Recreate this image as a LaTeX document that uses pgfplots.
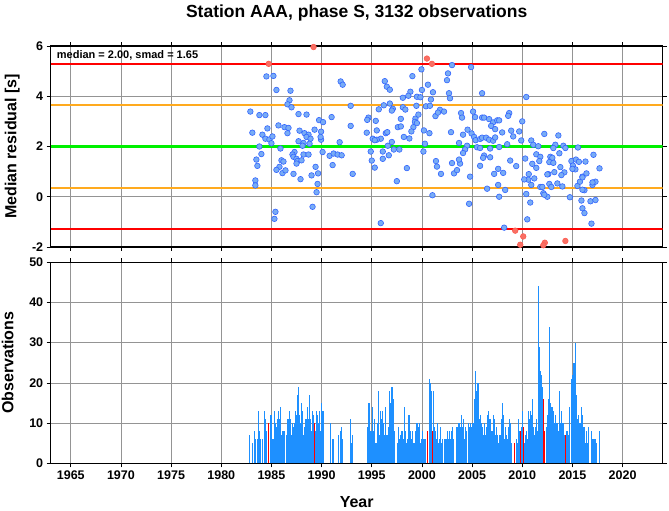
\documentclass[border=0pt]{standalone}
\usepackage{fontspec}
\setmainfont{Liberation Sans}
\usepackage{pgfplots}
\usepackage{pgfplotstable}
\pgfplotsset{compat=1.18}

\definecolor{obsblue}{RGB}{30,144,255}
\definecolor{ptfill}{RGB}{120,172,245}
\definecolor{ptedge}{RGB}{50,100,255}
\definecolor{outfill}{RGB}{248,112,100}
\definecolor{outedge}{RGB}{255,90,80}
\definecolor{limred}{RGB}{255,0,0}
\definecolor{limorange}{RGB}{255,170,30}
\definecolor{limgreen}{RGB}{0,240,0}

% monthly median residuals (blue = inside limits)
\pgfplotstableread{
year res
1982.9 3.39
1983.8 3.25
1984.4 3.25
1984.5 4.79
1985.2 4.81
1985.5 4.25
1986.9 4.22
1986.8 3.84
1986.6 3.68
1987.0 3.56
1987.7 3.29
1988.5 3.27
1989.75 3.05
1990.15 2.97
1991.0 3.17
1992.9 3.62
1991.9 4.59
1992.1 4.46
1992.9 2.82
1983.1 2.55
1984.1 2.47
1984.6 2.72
1984.4 2.31
1984.8 2.28
1985.1 2.40
1985.0 2.13
1983.8 2.00
1984.0 1.70
1983.5 1.48
1983.6 1.23
1983.4 0.65
1983.4 0.45
1985.7 2.84
1986.3 2.77
1986.7 2.74
1986.6 2.53
1985.9 1.92
1987.8 2.63
1988.3 2.53
1988.7 2.47
1988.5 2.38
1988.9 2.31
1989.3 2.67
1989.95 2.59
1989.95 2.27
1989.9 2.38
1987.7 2.21
1988.2 2.14
1988.8 2.11
1988.1 2.03
1990.1 1.78
1987.3 1.78
1987.1 1.68
1987.2 1.59
1987.5 1.51
1987.6 1.42
1987.5 1.32
1988.0 1.45
1988.2 1.68
1988.7 1.68
1986.0 1.45
1986.2 1.40
1985.8 1.19
1985.5 1.07
1986.1 0.94
1986.4 1.05
1987.2 0.91
1987.9 0.70
1989.0 0.85
1989.65 0.93
1989.4 1.19
1990.8 1.63
1991.2 1.72
1991.6 1.68
1992.0 1.65
1991.1 1.26
1991.8 2.17
1993.1 0.91
1989.6 0.51
1989.5 0.18
1989.1 -0.40
1985.4 -0.60
1985.3 -0.88
2003.0 5.24
2004.9 5.16
1999.95 5.07
2002.6 4.91
2002.5 4.64
1999.05 4.80
1996.3 4.60
1996.5 4.38
1996.8 4.26
2000.6 4.46
2000.0 4.25
2001.1 4.16
1998.85 4.18
1998.65 4.02
1998.1 3.94
1999.5 3.98
1999.85 3.96
2000.9 3.87
2000.4 3.60
2000.8 3.62
2002.7 4.12
2002.8 3.92
2006.0 4.12
1996.2 3.64
1996.8 3.71
1995.7 3.48
1997.1 3.50
1997.0 3.43
1998.1 3.56
1998.35 3.47
1999.45 3.62
2001.8 3.46
2002.2 3.39
2001.35 3.21
2001.6 3.35
2003.9 3.33
2004.0 3.15
2005.1 3.39
2005.3 3.17
2006.0 3.15
2006.2 3.15
2006.7 3.09
2007.1 2.96
2007.5 3.04
2006.9 2.82
2007.3 2.69
2007.7 3.04
1994.67 3.15
1994.55 3.06
1995.4 3.02
1995.5 2.64
1994.5 2.55
1997.9 3.10
1997.6 2.77
1997.9 2.80
1999.35 3.11
1999.3 2.98
1999.5 2.93
1999.65 3.27
1999.15 2.77
1998.95 2.60
1998.2 2.38
1998.75 2.32
1996.4 2.53
1996.55 2.57
1995.9 2.31
1995.5 2.27
1995.1 2.31
1995.3 2.25
1997.0 2.18
1996.6 2.03
1997.2 1.88
1997.75 1.88
1996.7 1.65
1996.1 1.80
1996.1 1.51
1994.9 1.80
1995.0 1.44
1995.3 1.16
1997.5 0.62
1998.5 1.14
2000.2 2.64
2000.75 2.53
2000.3 2.11
2000.15 1.80
2002.9 2.57
2004.1 2.47
2004.55 2.67
2004.95 2.52
2005.2 2.38
2005.35 2.25
2005.8 2.30
2006.0 2.35
2006.4 2.35
2006.7 2.27
2007.1 2.23
2007.3 2.36
2003.7 2.14
2004.5 2.03
2004.3 1.88
2004.1 1.74
2005.5 1.97
2005.8 1.94
2006.8 1.92
2007.7 1.98
2006.2 1.64
2006.1 1.55
2006.8 1.57
2001.4 1.42
2001.5 1.20
2001.9 0.91
2003.0 1.34
2003.8 1.32
2003.7 1.48
2003.2 0.93
2003.5 1.06
2005.8 1.23
2007.2 0.91
2007.6 1.11
2004.8 0.80
2006.5 0.32
2007.6 0.47
2001.05 0.06
2004.7 -0.28
1995.9 -1.05
2010.4 3.97
2008.7 3.33
2008.6 3.22
2010.0 3.00
2008.0 2.56
2008.9 2.63
2009.7 2.60
2009.1 2.40
2009.9 2.24
2008.5 2.09
2012.2 2.50
2013.6 2.44
2010.9 2.24
2011.1 2.07
2011.6 2.01
2013.3 2.07
2013.1 1.94
2013.7 1.73
2014.1 2.03
2014.3 1.94
2015.55 1.96
2017.1 1.67
2011.4 1.69
2011.8 1.59
2011.7 1.42
2011.4 1.15
2011.0 1.31
2010.3 1.52
2012.8 1.59
2013.0 1.55
2012.7 1.38
2013.1 1.35
2012.6 0.90
2013.8 1.18
2014.2 0.97
2013.9 0.86
2013.2 0.98
2014.9 1.42
2015.35 1.48
2015.65 1.39
2015.05 1.24
2015.3 1.09
2015.0 1.11
2016.3 1.40
2016.0 0.80
2016.4 0.93
2017.7 1.13
2008.8 1.44
2009.4 1.22
2008.1 0.95
2010.65 0.90
2010.6 0.68
2010.2 0.69
2011.2 0.73
2010.9 0.47
2011.8 0.39
2012.0 0.39
2012.5 0.00
2012.7 0.51
2012.9 0.39
2013.5 0.53
2014.0 0.41
2012.1 0.14
2012.2 0.08
2012.5 0.89
2014.75 -0.02
2015.5 0.43
2015.75 0.60
2016.0 0.77
2016.2 0.26
2016.0 0.28
2017.0 0.47
2017.3 0.60
2017.0 0.57
2015.9 -0.15
2016.8 -0.18
2017.3 -0.13
2016.0 -0.46
2016.2 -0.65
2016.9 -1.07
2007.7 0.00
2008.3 0.27
2010.4 0.11
2010.8 -0.23
2010.5 -0.90
2008.2 -1.23
}\goodres

% outliers beyond median +- 2 smad
\pgfplotstableread{
year res
1984.73 5.29
1989.2 5.96
2000.5 5.50
2001.0 5.29
2009.3 -1.35
2010.1 -1.58
2009.8 -1.91
2012.25 -1.83
2012.1 -1.93
2014.3 -1.76
}\badres

% observations per month
\pgfplotstableread{
year n
1982.81 7
1983.07 5
1983.34 8
1983.44 6
1983.60 6
1983.74 13
1983.84 8
1983.94 6
1984.07 6
1984.34 13
1984.43 11
1984.53 8
1984.87 12
1984.97 12
1985.10 6
1985.20 6
1985.33 13
1985.43 10
1985.53 9
1985.63 11
1985.73 13
1985.83 11
1985.93 14
1986.03 7
1986.13 8
1986.23 8
1986.33 8
1986.46 7
1986.56 11
1986.66 11
1986.76 13
1986.86 11
1986.96 7
1987.06 10
1987.16 9
1987.26 10
1987.36 13
1987.46 12
1987.56 17
1987.66 19
1987.76 12
1987.86 10
1987.96 15
1988.06 13
1988.16 7
1988.26 9
1988.36 11
1988.46 11
1988.55 14
1988.65 11
1988.75 17
1988.85 11
1988.95 8
1989.05 13
1989.15 12
1989.35 8
1989.45 13
1989.55 12
1989.65 10
1989.75 13
1989.85 8
1989.95 15
1990.05 13
1990.15 13
1990.85 10
1991.05 6
1991.15 6
1991.64 7
1991.84 8
1991.94 9
1992.04 6
1992.84 11
1992.94 5
1993.11 7
1994.53 9
1994.63 15
1994.73 15
1994.83 8
1994.93 8
1995.03 14
1995.13 8
1995.23 11
1995.33 5
1995.43 5
1995.53 10
1995.63 18
1995.73 7
1995.83 13
1995.93 11
1996.03 13
1996.13 10
1996.23 7
1996.33 14
1996.43 7
1996.53 7
1996.63 9
1996.73 18
1996.83 15
1996.93 19
1997.03 19
1997.13 16
1997.23 8
1997.56 5
1997.66 9
1997.76 6
1997.86 7
1997.96 8
1998.06 8
1998.16 6
1998.26 14
1998.35 8
1998.45 5
1998.55 6
1998.65 12
1998.75 12
1998.85 8
1998.95 6
1999.05 8
1999.15 5
1999.25 5
1999.35 8
1999.45 10
1999.55 10
1999.65 9
1999.75 10
1999.85 5
1999.95 6
2000.05 8
2000.15 6
2000.25 6
2000.35 6
2000.71 21
2000.81 20
2000.91 18
2001.15 18
2001.25 9
2001.35 8
2001.45 6
2001.55 10
2001.64 5
2001.74 6
2001.84 9
2001.94 5
2002.04 6
2002.24 6
2002.34 6
2002.44 6
2002.54 8
2002.64 6
2002.74 8
2002.84 6
2002.94 8
2003.04 9
2003.14 6
2003.47 9
2003.57 9
2003.67 10
2003.77 10
2003.87 9
2003.97 12
2004.07 9
2004.17 11
2004.27 6
2004.37 9
2004.47 8
2004.63 10
2004.73 9
2004.83 10
2004.93 9
2005.03 10
2005.13 10
2005.23 16
2005.33 23
2005.43 18
2005.53 20
2005.63 20
2005.73 11
2005.83 12
2005.95 10
2006.05 9
2006.15 7
2006.25 10
2006.35 7
2006.44 9
2006.54 12
2006.64 13
2006.74 11
2006.84 11
2006.94 8
2007.04 8
2007.14 12
2007.24 11
2007.34 7
2007.44 9
2007.54 7
2007.64 5
2007.74 7
2007.84 7
2007.94 11
2008.04 15
2008.14 12
2008.24 6
2008.34 9
2008.44 7
2008.54 6
2008.64 9
2008.74 11
2008.84 10
2008.94 5
2009.44 6
2009.53 5
2009.63 11
2009.73 8
2009.93 9
2010.03 13
2010.23 5
2010.33 7
2010.43 8
2010.53 6
2010.63 13
2010.73 11
2010.83 13
2010.93 12
2011.03 16
2011.13 9
2011.23 7
2011.33 9
2011.43 11
2011.53 8
2011.63 44
2011.70 29
2011.76 23
2011.86 22
2011.96 19
2012.36 9
2012.46 12
2012.56 16
2012.66 34
2012.76 15
2012.86 14
2012.96 14
2013.06 13
2013.16 10
2013.26 12
2013.36 10
2013.46 10
2013.56 8
2013.66 12
2013.75 18
2013.85 10
2013.95 13
2014.05 10
2014.15 10
2014.25 7
2014.45 8
2014.55 8
2014.65 7
2014.75 14
2014.85 21
2014.95 22
2015.05 25
2015.15 25
2015.25 30
2015.35 17
2015.45 11
2015.55 12
2015.65 10
2015.75 10
2015.85 14
2015.95 12
2016.05 9
2016.18 9
2016.28 5
2016.38 8
2016.48 5
2016.58 9
2016.88 8
2016.98 6
2017.08 6
2017.18 6
2017.28 6
2017.38 5
2017.67 8
}\goodobs

\pgfplotstableread{
year n
1984.73 10
1989.25 10
2000.58 8
2001.01 8
2009.27 5
2009.83 8
2010.13 9
2012.09 16
2012.26 8
2014.35 7
}\badobs

\pgfplotsset{
  stationframe/.style={
    scale only axis, width=612pt, height=201pt,
    anchor=south west,
    xmin=1963, xmax=2024, xtick={1965,1970,...,2020},
    scaled x ticks=false, scaled y ticks=false,
    grid=major, major grid style={black!42, line width=0.6pt},
    tick align=outside, major tick length=4pt,
    every tick/.style={black, line width=0.7pt},
    axis line style={line width=1.1pt},
    tick label style={font=\fontsize{12.5}{14}\selectfont\bfseries},
    label style={font=\fontsize{16}{18}\selectfont\bfseries},
    /pgf/number format/assume math mode=true,
    /pgf/number format/1000 sep={},
  }
}

\begin{document}
\begin{tikzpicture}
\useasboundingbox (0pt,0pt) rectangle (669pt,511pt);

% residuals panel
\begin{axis}[stationframe,
  at={(50.7pt,264pt)},
  ymin=-2, ymax=6, ytick={-2,0,...,6},
  xticklabels={},
  ylabel={Median residual [s]},
  ylabel style={at={(axis description cs:-0.056,0.5)}, anchor=base},
  title={Station AAA, phase S, 3132 observations},
  title style={font=\fontsize{17.5}{19}\selectfont\bfseries,
    at={(axis description cs:0.5,1)}, anchor=base, yshift=23pt},
]
\addplot[limred, line width=2pt] coordinates {(1963,5.3) (2024,5.3)};
\addplot[limred, line width=2pt] coordinates {(1963,-1.3) (2024,-1.3)};
\addplot[limorange, line width=2pt] coordinates {(1963,3.65) (2024,3.65)};
\addplot[limorange, line width=2pt] coordinates {(1963,0.35) (2024,0.35)};
\addplot[limgreen, line width=3.5pt] coordinates {(1963,2.0) (2024,2.0)};
\addplot[only marks, mark=*, mark size=2.8pt,
  mark options={fill=ptfill, draw=ptedge, line width=0.6pt}] table[x=year, y=res] {\goodres};
\addplot[only marks, mark=*, mark size=2.8pt,
  mark options={fill=outfill, draw=outedge, line width=0.6pt}] table[x=year, y=res] {\badres};
\node[anchor=north west, inner sep=0pt, xshift=6pt, yshift=-4pt,
  font=\fontsize{11}{12}\selectfont\bfseries] at (rel axis cs:0,1) {median = 2.00, smad = 1.65};
\end{axis}

% observations panel
\begin{axis}[stationframe,
  at={(50.7pt,47.7pt)},
  ymin=0, ymax=50, ytick={0,10,...,50},
  xlabel={Year},
  xlabel style={at={(axis description cs:0.5,0)}, anchor=base, yshift=-44.5pt},
  ylabel={Observations},
  ylabel style={at={(axis description cs:-0.061,0.5)}, anchor=base},
]
\addplot[ycomb, obsblue, line width=0.8pt, mark=none] table[x=year, y=n] {\goodobs};
\addplot[ycomb, limred, line width=0.9pt, mark=none] table[x=year, y=n] {\badobs};
\end{axis}
\end{tikzpicture}
\end{document}
